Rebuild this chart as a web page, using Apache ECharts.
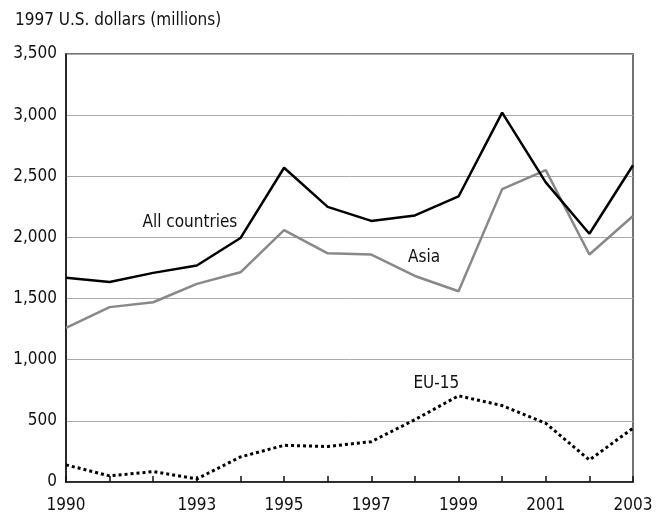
<!DOCTYPE html>
<html>
<head>
<meta charset="utf-8">
<script src="https://cdn.jsdelivr.net/npm/echarts@6/dist/echarts.min.js"></script>
<style>
  html, body { margin: 0; padding: 0; background: #fff; }
  #chart { width: 663px; height: 515px; }
</style>
</head>
<body>
<div id="chart"></div>
<script>
var years = [1990, 1991, 1992, 1993, 1994, 1995, 1996, 1997, 1998, 1999, 2000, 2001, 2002, 2003];
var allCountries = [1670, 1635, 1710, 1770, 1995, 2570, 2250, 2135, 2180, 2335, 3020, 2450, 2030, 2590];
var asia = [1260, 1430, 1470, 1620, 1715, 2060, 1870, 1860, 1685, 1560, 2395, 2550, 1860, 2175];
var eu15 = [140, 50, 85, 25, 205, 300, 290, 330, 510, 705, 625, 480, 180, 440];
var labelYears = [1990, 1993, 1995, 1997, 1999, 2001, 2003];
var yTicks = [0, 500, 1000, 1500, 2000, 2500, 3000, 3500];
// where the series names sit: [year, value]
var nameSpots = {
  "All countries": [1992.84, 2120],
  "Asia": [1998.21, 1835],
  "EU-15": [1998.49, 805]
};

var font = '"Liberation Sans Narrow", "DejaVu Sans Condensed", "Liberation Sans", sans-serif';

function pairs(vals) {
  return years.map(function (y, i) { return [y, vals[i]]; });
}

function nameMark(name) {
  return {
    silent: true,
    symbol: "circle",
    symbolSize: 0,
    data: [{
      coord: nameSpots[name],
      label: {
        show: true,
        position: "inside",
        formatter: name,
        color: "#111",
        fontFamily: font,
        fontSize: 17
      }
    }]
  };
}

var dom = echarts.init(document.getElementById("chart"));
var option = {
  animation: false,
  backgroundColor: "#fff",
  title: {
    text: "1997 U.S. dollars (millions)",
    left: 10,
    top: 7,
    textStyle: { fontFamily: font, fontSize: 17, fontWeight: "normal", color: "#111" }
  },
  grid: {
    left: 66,
    right: 30,
    top: 54,
    bottom: 33,
    show: true,
    borderColor: "#444",
    borderWidth: 1.5
  },
  xAxis: {
    type: "value",
    min: 1990,
    max: 2003,
    interval: 1,
    axisLine: { show: true, lineStyle: { color: "#111", width: 1.5 } },
    axisTick: { show: true, inside: true, length: 6, lineStyle: { color: "#111", width: 1.5 } },
    splitLine: { show: false },
    axisLabel: {
      margin: 15,
      color: "#111",
      fontFamily: font,
      fontSize: 17,
      showMinLabel: true,
      showMaxLabel: true,
      formatter: function (v) {
        return labelYears.indexOf(v) >= 0 ? String(v) : "";
      }
    }
  },
  yAxis: {
    type: "value",
    min: 0,
    max: 3500,
    interval: 500,
    axisLine: { show: true, lineStyle: { color: "#111", width: 1.5 } },
    axisTick: { show: false },
    splitLine: { show: true, lineStyle: { color: "#aaa", width: 1 } },
    axisLabel: {
      margin: 9,
      color: "#111",
      fontFamily: font,
      fontSize: 17,
      formatter: function (v) {
        return yTicks.indexOf(v) >= 0 ? v.toLocaleString("en-US") : "";
      }
    }
  },
  series: [
    {
      name: "Asia",
      type: "line",
      data: pairs(asia),
      symbol: "none",
      lineStyle: { color: "#888", width: 2.5 },
      markPoint: nameMark("Asia")
    },
    {
      name: "All countries",
      type: "line",
      data: pairs(allCountries),
      symbol: "none",
      lineStyle: { color: "#000", width: 2.5 },
      markPoint: nameMark("All countries")
    },
    {
      name: "EU-15",
      type: "line",
      data: pairs(eu15),
      symbol: "none",
      lineStyle: { color: "#000", width: 3, type: [3, 3] },
      markPoint: nameMark("EU-15")
    }
  ]
};
dom.setOption(option);
window.addEventListener("resize", function () { dom.resize(); });
</script>
</body>
</html>
